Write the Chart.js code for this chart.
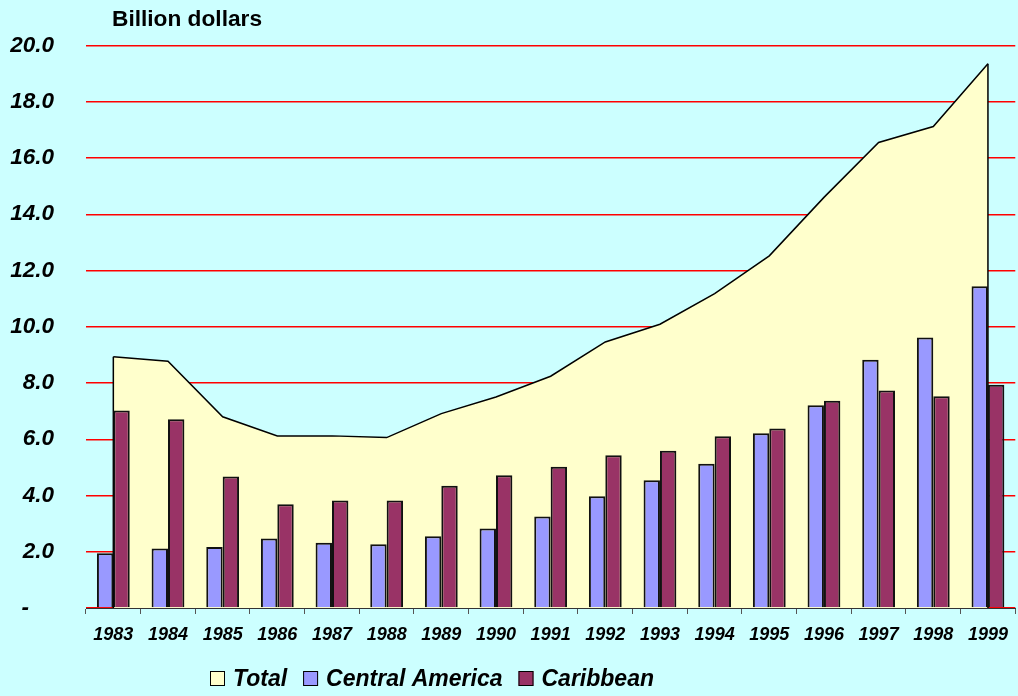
<!DOCTYPE html>
<html>
<head>
<meta charset="utf-8">
<script src="https://cdn.jsdelivr.net/npm/chart.js@4/dist/chart.umd.min.js"></script>
<style>
  html, body { margin: 0; padding: 0; background: #CCFFFF; overflow: hidden; }
  #wrap { position: relative; width: 1018px; height: 696px; }
</style>
</head>
<body>
<div id="wrap"><canvas id="c"></canvas></div>
<script>
const years = ['1983','1984','1985','1986','1987','1988','1989','1990','1991','1992','1993','1994','1995','1996','1997','1998','1999'];
const total = [8.93, 8.77, 6.80, 6.12, 6.12, 6.06, 6.91, 7.50, 8.24, 9.46, 10.09, 11.18, 12.52, 14.60, 16.55, 17.12, 19.35];
const centralAmerica = [1.95, 2.12, 2.17, 2.47, 2.32, 2.27, 2.55, 2.83, 3.25, 3.97, 4.54, 5.13, 6.21, 7.21, 8.83, 9.62, 11.44];
const caribbean = [7.02, 6.71, 4.68, 3.69, 3.82, 3.82, 4.35, 4.72, 5.02, 5.43, 5.59, 6.11, 6.38, 7.37, 7.73, 7.53, 7.94];
const yTicks = [0, 2, 4, 6, 8, 10, 12, 14, 16, 18, 20];
const seriesNames = ['Total', 'Central America', 'Caribbean'];
const unitLabel = 'Billion dollars';

const FONT = '"Liberation Sans", Arial, sans-serif';

const areaEdges = {
  id: 'areaEdges',
  afterDatasetDraw(chart, args) {
    if (args.index !== 0) return;
    const pts = args.meta.data;
    if (!pts.length) return;
    const y0 = chart.scales.y.getPixelForValue(0);
    const ctx = chart.ctx;
    ctx.save();
    ctx.strokeStyle = '#000';
    ctx.lineWidth = 1.5;
    ctx.beginPath();
    ctx.moveTo(pts[0].x, pts[0].y); ctx.lineTo(pts[0].x, y0);
    const l = pts[pts.length - 1];
    ctx.moveTo(l.x, l.y); ctx.lineTo(l.x, y0);
    ctx.stroke();
    ctx.restore();
  }
};

const extras = {
  id: 'extras',
  afterDraw(chart) {
    const ctx = chart.ctx;
    ctx.save();
    ctx.fillStyle = '#000';
    ctx.textBaseline = 'alphabetic';
    ctx.textAlign = 'left';
    ctx.font = 'bold 22.7px ' + FONT;
    ctx.fillText(unitLabel, 112, 26);
    ctx.font = 'italic bold 23px ' + FONT;
    let x = 210;
    chart.data.datasets.forEach((ds) => {
      ctx.fillStyle = ds.backgroundColor;
      ctx.fillRect(x, 671, 15, 15);
      ctx.strokeStyle = '#000';
      ctx.lineWidth = 1;
      ctx.strokeRect(x + 0.5, 671.5, 14, 14);
      ctx.fillStyle = '#000';
      ctx.fillText(ds.label, x + 23, 686);
      x += 23 + ctx.measureText(ds.label).width + 16;
    });
    ctx.restore();
  }
};

new Chart(document.getElementById('c'), {
  type: 'bar',
  data: {
    labels: years,
    datasets: [
      {
        type: 'line',
        label: seriesNames[0],
        data: total,
        fill: 'origin',
        backgroundColor: '#FFFFCC',
        borderColor: '#000',
        borderWidth: 1.5,
        pointRadius: 0,
        tension: 0,
        order: 5
      },
      {
        label: seriesNames[1],
        data: centralAmerica,
        backgroundColor: '#9999FF',
        borderColor: '#111',
        borderWidth: 2,
        borderSkipped: 'bottom',
        categoryPercentage: 0.6,
        barPercentage: 1.0,
        order: 1
      },
      {
        label: seriesNames[2],
        data: caribbean,
        backgroundColor: '#993366',
        borderColor: '#111',
        borderWidth: 2,
        borderSkipped: 'bottom',
        categoryPercentage: 0.6,
        barPercentage: 1.0,
        order: 1
      }
    ]
  },
  options: {
    responsive: true,
    maintainAspectRatio: false,
    animation: false,
    layout: { padding: { top: 45, right: 1, left: 0, bottom: 0 } },
    plugins: {
      legend: { display: false },
      tooltip: { enabled: false },
      title: { display: false }
    },
    scales: {
      x: {
        offset: true,
        grid: {
          offset: true,
          drawOnChartArea: false,
          drawTicks: true,
          tickLength: 6,
          color: '#555',
          lineWidth: 1
        },
        border: { display: true, color: '#333', width: 1 },
        ticks: {
          color: '#000',
          font: { family: FONT, size: 18, style: 'italic', weight: 'bold' },
          padding: 10,
          maxRotation: 0,
          autoSkip: false
        },
        afterFit(scale) { scale.height = 88; }
      },
      y: {
        min: 0,
        max: 20,
        afterBuildTicks(scale) { scale.ticks = yTicks.map(v => ({ value: v })); },
        grid: {
          drawTicks: false,
          color: '#FF0000',
          lineWidth: 1.5
        },
        border: { display: false },
        ticks: {
          color: '#000',
          font: { family: FONT, size: 22.5, style: 'italic', weight: 'bold' },
          padding: 32,
          callback: (v) => v === 0 ? '-    ' : v.toFixed(1)
        },
        afterFit(scale) { scale.width = 86; }
      }
    }
  },
  plugins: [areaEdges, extras]
});
</script>
</body>
</html>
